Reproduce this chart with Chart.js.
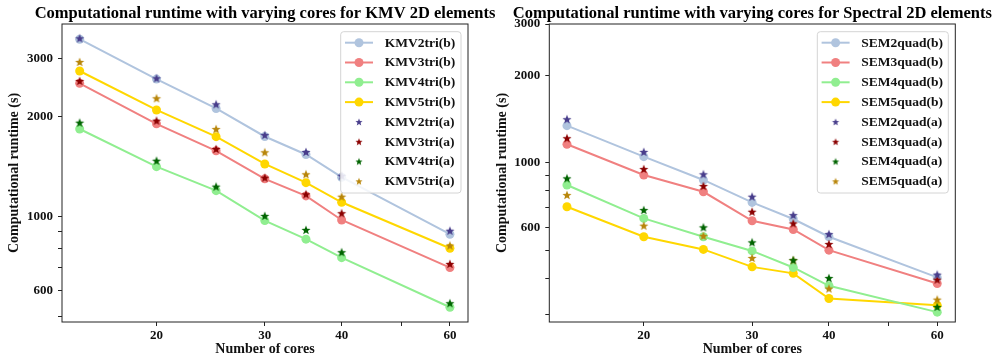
<!DOCTYPE html>
<html>
<head>
<meta charset="utf-8">
<script src="https://cdn.jsdelivr.net/npm/chart.js@4.4.1/dist/chart.umd.min.js"></script>
<style>
  html, body { margin: 0; padding: 0; background: #fff; }
  .panel { position: absolute; top: 0; width: 496px; height: 358px; }
</style>
</head>
<body>
<div class="panel" style="left:0"><canvas id="kmvChart" width="496" height="358"></canvas></div>
<div class="panel" style="left:496px"><canvas id="semChart" width="496" height="358"></canvas></div>
<script>
// number of cores (log x axis)
const cores = [15, 20, 25, 30, 35, 40, 60];
const xTicks = [20, 30, 40, 50, 60];
const xTickLabels = ['20', '30', '40', '', '60'];

// KMV runtimes (s)
const kmvNames = ['KMV2tri', 'KMV3tri', 'KMV4tri', 'KMV5tri'];
const kmv2b = [3430, 2600, 2120, 1745, 1540, 1315, 885];
const kmv3b = [2525, 1905, 1580, 1300, 1155, 977, 702];
const kmv4b = [1838, 1415, 1198, 973, 855, 752, 533];
const kmv5b = [2750, 2098, 1743, 1442, 1266, 1105, 803];
const kmv2a = [3452, 2615, 2183, 1763, 1567, 1329, 907];
const kmv3a = [2566, 1948, 1600, 1311, 1168, 1024, 720];
const kmv4a = [1921, 1475, 1232, 1005, 912, 781, 548];
const kmv5a = [2928, 2275, 1838, 1564, 1342, 1149, 818];
const kmvYTicks = [500, 600, 700, 800, 900, 1000, 2000, 3000];
const kmvYLabels = ['', '600', '', '', '', '1000', '2000', '3000'];

// SEM runtimes (s)
const semNames = ['SEM2quad', 'SEM3quad', 'SEM4quad', 'SEM5quad'];
const sem2b = [1341, 1049, 872, 730, 640, 556, 403];
const sem3b = [1157, 907, 794, 631, 589, 500, 384];
const sem4b = [838, 643, 556, 497, 436, 377, 306];
const sem5b = [705, 556, 503, 438, 416, 341, 323];
const sem2a = [1411, 1089, 912, 764, 660, 568, 412];
const sem3a = [1214, 951, 831, 678, 618, 525, 396];
const sem4a = [883, 687, 599, 532, 462, 401, 319];
const sem5a = [774, 607, 560, 470, 462, 369, 338];
const semYTicks = [300, 400, 500, 600, 700, 800, 900, 1000, 2000, 3000];
const semYLabels = ['', '', '', '600', '', '', '', '1000', '2000', '3000'];

const lineColors = ['#B0C4DE', '#F08080', '#90EE90', '#FFD700'];
const starColors = ['#483D8B', '#8B0000', '#006400', '#B8860B'];
const serif = "'Liberation Serif', 'Times New Roman', serif";

function starImage(color, r) {
  const c = document.createElement('canvas');
  const s = Math.ceil(r * 2 + 2);
  c.width = s; c.height = s;
  const g = c.getContext('2d');
  g.beginPath();
  for (let i = 0; i < 10; i++) {
    const rad = i % 2 ? r * 0.42 : r;
    const a = -Math.PI / 2 + i * Math.PI / 5;
    g.lineTo(s / 2 + rad * Math.cos(a), s / 2 + rad * Math.sin(a) + r * 0.08);
  }
  g.closePath();
  g.fillStyle = color;
  g.fill();
  return c;
}

function pts(arr) {
  return arr.map((v, i) => ({ x: cores[i], y: v }));
}

// frame, title and boxed legend
const decor = {
  id: 'decor',
  afterDraw(chart, args, o) {
    const { ctx, chartArea: a } = chart;
    ctx.save();
    ctx.strokeStyle = '#222';
    ctx.lineWidth = 1;
    ctx.strokeRect(a.left, a.top, a.right - a.left, a.bottom - a.top);

    ctx.fillStyle = '#000';
    ctx.font = 'bold 16.5px ' + serif;
    ctx.textAlign = 'center';
    ctx.textBaseline = 'alphabetic';
    ctx.fillText(o.title, (a.left + a.right) / 2, 17.5);

    const rowH = 19.8;
    const x0 = a.right - 7 - o.legendWidth, y0 = a.top + 7.7;
    ctx.beginPath();
    ctx.roundRect(x0, y0, o.legendWidth, 161.3, 3);
    ctx.fillStyle = 'rgba(255,255,255,0.85)';
    ctx.fill();
    ctx.strokeStyle = '#d4d4d4';
    ctx.stroke();

    ctx.font = 'bold 13.5px ' + serif;
    ctx.textAlign = 'left';
    ctx.textBaseline = 'middle';
    chart.data.datasets.forEach((ds, i) => {
      const cy = y0 + 11 + i * rowH;
      const hx = x0 + 4.3;
      if (ds.showLine) {
        ctx.strokeStyle = ds.borderColor;
        ctx.lineWidth = 2;
        ctx.beginPath();
        ctx.moveTo(hx, cy); ctx.lineTo(hx + 28, cy);
        ctx.stroke();
        ctx.fillStyle = ds.pointBackgroundColor;
        ctx.beginPath();
        ctx.arc(hx + 14, cy, 4.5, 0, Math.PI * 2);
        ctx.fill();
      } else {
        const img = ds.legendStar;
        ctx.drawImage(img, hx + 14 - img.width / 2, cy - img.height / 2);
      }
      ctx.fillStyle = '#111';
      ctx.fillText(ds.label, x0 + 44, cy + 0.5);
    });
    ctx.restore();
  }
};

function buildChart(id, names, bSeries, aSeries, yMin, yMax, yTicks, yLabels, yWidth, rightPad, title, legendWidth, yTitlePad) {
  const datasets = [];
  bSeries.forEach((s, i) => datasets.push({
    label: names[i] + '(b)',
    data: pts(s),
    showLine: true,
    borderColor: lineColors[i],
    borderWidth: 2,
    pointBackgroundColor: lineColors[i],
    pointBorderWidth: 0,
    pointRadius: 4.5,
    order: 1
  }));
  aSeries.forEach((s, i) => datasets.push({
    label: names[i] + '(a)',
    data: pts(s),
    showLine: false,
    pointStyle: starImage(starColors[i], 4.8),
    legendStar: starImage(starColors[i], 3.8),
    order: 0
  }));

  return new Chart(document.getElementById(id), {
    type: 'line',
    data: { datasets },
    options: {
      responsive: false,
      animation: false,
      layout: { padding: { top: 24, right: rightPad, left: 0, bottom: 0 } },
      plugins: {
        legend: { display: false },
        tooltip: { enabled: false },
        decor: { title, legendWidth }
      },
      scales: {
        x: {
          type: 'logarithmic',
          min: 14.04,
          max: 64.2,
          afterBuildTicks: s => { s.ticks = xTicks.map(v => ({ value: v })); },
          afterFit: s => { s.height = 36; },
          ticks: {
            autoSkip: false,
            maxRotation: 0,
            padding: 2,
            color: '#111',
            font: { family: serif, size: 13, weight: 'bold' },
            callback: (v, i) => xTickLabels[i]
          },
          grid: { drawOnChartArea: false, tickLength: 4, color: '#222' },
          border: { display: false },
          title: {
            display: true,
            text: 'Number of cores',
            color: '#111',
            padding: { top: -1, bottom: 0 },
            font: { family: serif, size: 14, weight: 'bold' }
          }
        },
        y: {
          type: 'logarithmic',
          min: yMin,
          max: yMax,
          afterBuildTicks: s => { s.ticks = yTicks.map(v => ({ value: v })); },
          afterFit: s => { s.width = yWidth; },
          ticks: {
            autoSkip: false,
            padding: 5,
            color: '#111',
            font: { family: serif, size: 13, weight: 'bold' },
            callback: (v, i) => yLabels[i]
          },
          grid: { drawOnChartArea: false, tickLength: 4, color: '#222' },
          border: { display: false },
          title: {
            display: true,
            text: 'Computational runtime (s)',
            color: '#111',
            padding: { top: yTitlePad, bottom: 0 },
            font: { family: serif, size: 14, weight: 'bold' }
          }
        }
      }
    },
    plugins: [decor]
  });
}

buildChart('kmvChart', kmvNames,
  [kmv2b, kmv3b, kmv4b, kmv5b], [kmv2a, kmv3a, kmv4a, kmv5a],
  481, 3812, kmvYTicks, kmvYLabels, 62, 28,
  'Computational runtime with varying cores for KMV 2D elements', 120.3, 6);

buildChart('semChart', semNames,
  [sem2b, sem3b, sem4b, sem5b], [sem2a, sem3a, sem4a, sem5a],
  283, 3000, semYTicks, semYLabels, 53.3, 36.7,
  'Computational runtime with varying cores for Spectral 2D elements', 131, -2);
</script>
</body>
</html>
